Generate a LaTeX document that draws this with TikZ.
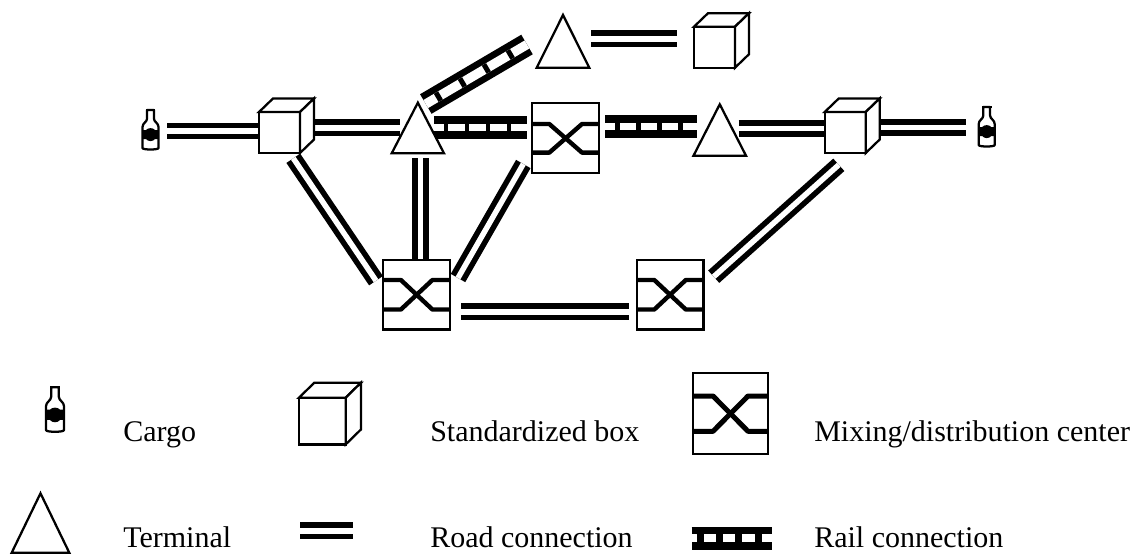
\documentclass[tikz,border=0pt]{standalone}
\usepackage{fontspec}
\setmainfont{Liberation Serif}
\tikzset{
  x=0.75pt,y=-0.75pt,
  road/.style={line width=4.2pt,double=white,double distance=4.1pt,line cap=butt},
  railbars/.style={line width=5.9pt,double=white,double distance=5.4pt,line cap=butt},
  railties/.style={line width=7pt,line cap=butt},
  label/.style={anchor=base west,inner sep=0pt,font=\fontsize{22.5}{27}\selectfont},
  icon/.style={line width=1.7pt,fill=white,line join=miter},
  pics/cube/.style args={#1/#2/#3}{code={
    \draw[icon] (0,0) rectangle (#1,#1);
    \draw[icon] (0,0) -- (#2,-#3) -- (#1+#2,-#3) -- (#1,0) -- cycle;
    \draw[icon] (#1,0) -- (#1+#2,-#3) -- (#1+#2,#1-#3) -- (#1,#1) -- cycle;
  }},
  pics/terminal/.style args={#1/#2}{code={
    \draw[icon,line join=miter] (0,0) -- (#1/2,-#2) -- (#1,0) -- cycle;
  }},
  pics/mixbox/.style args={#1/#2/#3/#4/#5}{code={
    \draw[icon] (0,0) rectangle (#1,#2);
    \draw[line width=#5*0.75pt,line join=bevel] (0,#3) -- (#4,#3) -- (#1-#4,#2-#3) -- (#1,#2-#3);
    \draw[line width=#5*0.75pt,line join=bevel] (0,#2-#3) -- (#4,#2-#3) -- (#1-#4,#3) -- (#1,#3);
  }},
  pics/cargo/.style={code={
    \draw[line width=1.7pt,fill=white,line join=round]
      (-3.4,1) -- (-3.4,9.5) .. controls (-3.4,13) and (-8,14) .. (-8,18)
      -- (-8,39) .. controls (-8,41) and (8,41) .. (8,39)
      -- (8,18) .. controls (8,14) and (3.4,13) .. (3.4,9.5) -- (3.4,1) -- cycle;
    \fill (-4.8,0) rectangle (4.8,2.2);
    \fill (-8,21) -- (-4.5,21) .. controls (-2.5,18.5) and (2.5,18.5) .. (4.5,21) -- (8,21)
      -- (8,30) -- (4.5,30) .. controls (2.5,32.8) and (-2.5,32.8) .. (-4.5,30) -- (-8,30) -- cycle;
  }}
}
\begin{document}
\begin{tikzpicture}
\useasboundingbox (0,0) rectangle (1131,554);
% connector end points
\coordinate (r1a) at (167,131);   \coordinate (r1b) at (262,131);
\coordinate (r2a) at (312,127.8); \coordinate (r2b) at (400,127.8);
\coordinate (r3a) at (434,127.7); \coordinate (r3b) at (527,127.7);
\coordinate (r4a) at (605,126.8); \coordinate (r4b) at (697,126.8);
\coordinate (r5a) at (738.7,128.7); \coordinate (r5b) at (827,128.7);
\coordinate (r6a) at (878,127.7); \coordinate (r6b) at (966,127.7);
\coordinate (r7a) at (425.8,104); \coordinate (r7b) at (527,44.5);
\coordinate (r8a) at (591,38.8);  \coordinate (r8b) at (676.7,38.8);
\coordinate (r9a) at (293.3,158.3); \coordinate (r9b) at (376,280.7);
\coordinate (r10a) at (420.5,158.3); \coordinate (r10b) at (420.5,262);
\coordinate (r11a) at (523.3,164); \coordinate (r11b) at (458,278);
\coordinate (r12a) at (461,311.8); \coordinate (r12b) at (629,311.8);
\coordinate (r13a) at (838.8,164.8); \coordinate (r13b) at (713.7,276.7);
\coordinate (lra) at (300,530.8); \coordinate (lrb) at (352.7,530.8);
\coordinate (lta) at (691.7,538.2); \coordinate (ltb) at (772,538.2);
% roads
\foreach \a/\b in {r1a/r1b,r2a/r2b,r5a/r5b,r6a/r6b,r8a/r8b,r9a/r9b,r10a/r10b,r11a/r11b,r12a/r12b,r13a/r13b,lra/lrb}
  \draw[road] (\a) -- (\b);
% rails
\draw[railbars] (r3a) -- (r3b);
\draw[railties,dash pattern=on 3.4pt off 12.35pt,dash phase=8.6pt] (r3a) -- (r3b);
\draw[railbars] (r4a) -- (r4b);
\draw[railties,dash pattern=on 3.4pt off 12.35pt,dash phase=8.25pt] (r4a) -- (r4b);
\draw[railbars,line width=5pt,double distance=7pt] (r7a) -- (r7b);
\draw[railties,dash pattern=on 3.75pt off 17.1pt,dash phase=11.8pt] (r7a) -- (r7b);
\draw[railbars,line width=5.5pt,double distance=6.3pt] (lta) -- (ltb);
\draw[railties,dash pattern=on 5.25pt off 9.2pt,dash phase=10.7pt] (lta) -- (ltb);
% network icons
\pic (b1) at (150.5,109) {cargo};
\pic (c1) at (259,112) {cube={41/14/13.5}};
\pic (t1) at (391.7,153.3) {terminal={52.3/50.6}};
\pic (t2) at (536.7,67.7) {terminal={52.6/52.7}};
\pic (c2) at (694,26.7) {cube={41/14/13.5}};
\pic (m1) at (532.3,103.3) {mixbox={66.7/70/20.7/17/4.4}};
\pic (t3) at (693.5,155.7) {terminal={52.5/51.4}};
\pic (c3) at (824.7,112) {cube={41/14/13.5}};
\pic (b2) at (986.7,106) {cargo};
\pic (m2) at (383.3,260) {mixbox={66.7/69.5/20/17.6/4.4}};
\pic (m3) at (636.7,260) {mixbox={66.7/69.5/20/17.6/4.4}};
% legend
\pic[scale=1.13] (lb) at (55,386) {cargo};
\pic (lc) at (299,397.7) {cube={46.7/15.3/15}};
\pic (lm) at (693.3,373.3) {mixbox={74.4/80.7/22.7/19.7/5}};
\pic (lt) at (11.7,552.7) {terminal={57.6/59.4}};
\node[label] (l1) at (123,441.5) {Cargo};
\node[label] (l2) at (430,441.5) {Standardized box};
\node[label] (l3) at (814,441.5) {Mixing/distribution center};
\node[label] (l4) at (123,547.5) {Terminal};
\node[label] (l5) at (430,547.5) {Road connection};
\node[label] (l6) at (814,547.5) {Rail connection};
\end{tikzpicture}
\end{document}
